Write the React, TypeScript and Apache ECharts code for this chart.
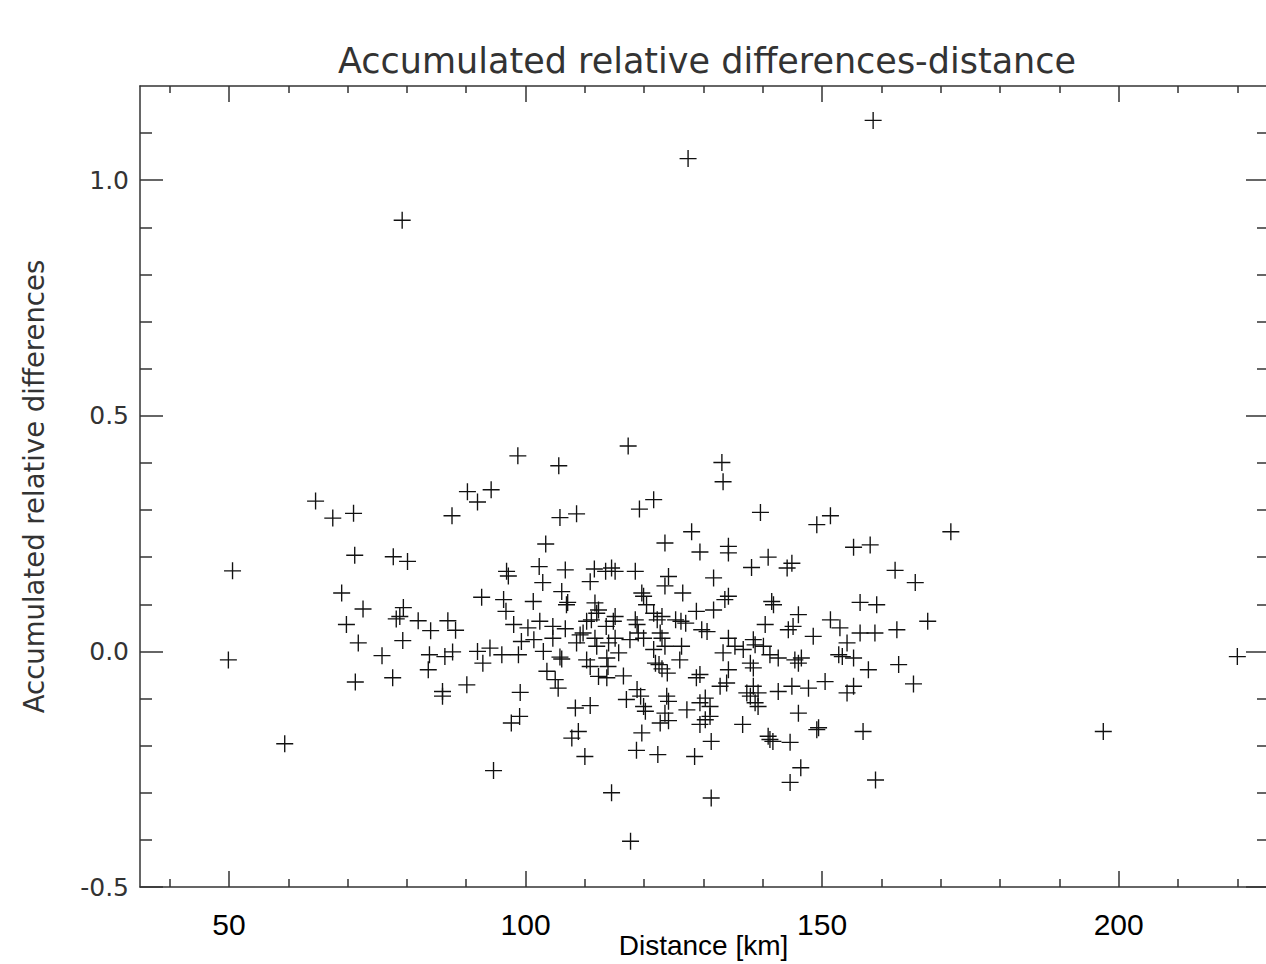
import React, { useEffect, useRef } from "react";
import * as echarts from "echarts";

// [distance km, accumulated relative difference]
const outlierPoints: number[][] = [
  [79.2, 0.915], [127.4, 1.046], [158.6, 1.127], [197.4, -0.17], [220.0, -0.011],
  [171.7, 0.254], [167.8, 0.064], [59.4, -0.196], [94.6, -0.253], [50.6, 0.171], [49.9, -0.018],
];

const westPoints: number[][] = [
  [98.7, 0.415], [105.6, 0.394], [64.6, 0.319], [67.5, 0.283], [71.0, 0.293], [90.2, 0.339],
  [91.9, 0.317], [94.2, 0.343], [87.6, 0.288], [105.8, 0.284], [108.6, 0.292], [103.4, 0.228],
  [71.2, 0.204], [77.7, 0.201], [80.1, 0.191], [96.8, 0.17], [97.1, 0.16], [102.3, 0.18],
  [106.7, 0.173], [102.9, 0.146], [106.1, 0.127], [107.1, 0.104], [106.9, 0.099], [69.0, 0.124],
  [72.6, 0.09], [69.8, 0.057], [71.8, 0.018], [75.8, -0.009], [71.3, -0.065], [77.6, -0.056],
  [79.4, 0.093], [78.2, 0.069], [78.8, 0.074], [81.9, 0.065], [84.0, 0.044], [86.9, 0.065],
  [88.2, 0.045], [79.3, 0.023], [92.6, 0.115], [96.3, 0.11], [96.7, 0.085], [101.3, 0.106],
  [98.0, 0.057], [100.4, 0.05], [102.4, 0.064], [104.6, 0.053], [106.7, 0.048], [99.3, 0.021],
  [101.4, 0.025], [104.6, 0.028], [108.6, 0.018], [83.8, -0.007], [86.4, -0.011], [87.7, -0.001],
  [91.9, 0.0], [94.0, 0.007], [92.8, -0.025], [96.0, -0.007], [98.8, -0.007], [103.0, 0.0],
  [105.8, -0.012], [103.6, -0.042], [105.0, -0.06], [105.5, -0.078], [83.6, -0.039], [86.0, -0.085],
  [86.0, -0.095], [90.1, -0.071], [99.1, -0.087], [99.0, -0.138], [108.4, -0.12], [97.6, -0.152],
  [106.1, -0.016], [110.9, -0.115], [110.3, -0.018], [110.9, -0.032],
];

const centralPoints: number[][] = [
  [117.3, 0.436], [133.1, 0.401], [133.3, 0.36], [121.6, 0.322], [119.2, 0.302], [139.6, 0.295],
  [151.4, 0.288], [149.1, 0.269], [128.0, 0.254], [123.5, 0.23], [155.3, 0.221], [158.1, 0.226],
  [134.2, 0.223], [134.2, 0.209], [129.4, 0.211], [140.9, 0.2], [144.9, 0.187], [144.1, 0.177],
  [138.1, 0.178], [111.6, 0.175], [113.5, 0.17], [114.5, 0.177], [115.1, 0.17], [118.5, 0.17],
  [124.1, 0.159], [131.7, 0.156], [110.9, 0.148], [119.6, 0.124], [119.9, 0.117], [120.4, 0.099],
  [123.5, 0.139], [126.5, 0.124], [133.6, 0.11], [134.2, 0.117], [141.5, 0.106], [141.8, 0.099],
  [156.4, 0.104], [159.2, 0.099], [111.7, 0.103], [112.3, 0.088], [112.0, 0.081], [115.1, 0.074],
  [114.8, 0.064], [113.6, 0.053], [110.3, 0.064], [111.1, 0.067], [109.2, 0.035], [109.7, 0.039],
  [111.7, 0.028], [112.0, 0.011], [114.0, 0.018], [113.7, -0.014], [113.9, -0.032], [115.1, 0.028],
  [115.7, -0.003], [112.3, -0.053], [113.7, -0.056], [116.5, -0.052], [117.6, 0.025], [119.0, 0.039],
  [119.9, 0.028], [118.5, 0.067], [118.8, 0.057], [121.6, 0.081], [122.2, 0.067], [123.0, 0.074],
  [122.7, 0.039], [123.0, 0.028], [121.6, 0.004], [121.9, -0.025], [122.5, -0.028], [123.0, -0.037],
  [123.9, -0.046], [125.3, 0.067], [126.2, 0.064], [127.0, 0.06], [126.3, 0.011], [126.0, -0.018],
  [123.5, 0.011], [128.8, 0.085], [131.7, 0.088], [129.7, 0.046], [130.6, 0.042], [134.2, 0.028],
  [135.3, 0.011], [136.7, 0.004], [133.3, -0.003], [138.4, 0.025], [138.7, 0.014], [140.1, 0.011],
  [140.4, 0.057], [137.9, -0.025], [138.4, -0.035], [141.2, -0.007], [142.6, -0.014], [145.4, -0.018],
  [146.0, -0.025], [146.5, -0.014], [144.3, 0.046], [145.1, 0.053], [148.5, 0.032], [146.0, 0.078],
  [151.4, 0.067], [153.0, 0.05], [156.4, 0.039], [154.2, 0.018], [152.8, -0.007], [153.4, -0.011],
  [157.8, -0.039], [158.9, 0.039], [155.3, -0.014], [162.6, 0.046], [165.7, 0.146], [162.3, 0.172],
  [162.9, -0.028], [165.4, -0.069],
];

const southPoints: number[][] = [
  [155.3, -0.074], [154.2, -0.088], [147.7, -0.078], [144.9, -0.074], [142.6, -0.085], [138.4, -0.074],
  [139.2, -0.088], [132.8, -0.074], [133.9, -0.067], [129.4, -0.049], [128.8, -0.056], [134.2, -0.039],
  [130.3, -0.099], [129.4, -0.109], [131.1, -0.117], [123.8, -0.095], [124.1, -0.106], [118.8, -0.081],
  [119.4, -0.095], [117.0, -0.102], [119.9, -0.117], [120.2, -0.127], [107.8, -0.184], [108.9, -0.17],
  [110.0, -0.223], [114.5, -0.3], [117.7, -0.403], [119.6, -0.173], [118.7, -0.21], [122.3, -0.219],
  [123.5, -0.131], [124.1, -0.147], [122.7, -0.152], [127.2, -0.124], [128.5, -0.223], [129.4, -0.155],
  [130.3, -0.145], [131.1, -0.138], [131.3, -0.191], [131.3, -0.311], [136.6, -0.155], [137.3, -0.088],
  [137.9, -0.095], [138.7, -0.109], [139.2, -0.117], [141.2, -0.187], [140.9, -0.18], [141.7, -0.191],
  [144.6, -0.193], [146.0, -0.131], [149.1, -0.166], [149.4, -0.162], [146.4, -0.247], [144.6, -0.278],
  [150.5, -0.064], [156.9, -0.17], [159.0, -0.273],
];

const xMajorTicks = [50, 100, 150, 200];
const xMinorTicks = [40, 60, 70, 80, 90, 110, 120, 130, 140, 160, 170, 180, 190, 210, 220];
const yMajorTicks = [-0.5, 0, 0.5, 1.0];
const yMinorTicks = [-0.4, -0.3, -0.2, -0.1, 0.1, 0.2, 0.3, 0.4, 0.6, 0.7, 0.8, 0.9, 1.1];

const X_MIN = 35;
const X_MAX = 225;
const Y_MIN = -0.5;
const Y_MAX = 1.2;

const LINE = "#333";
const HERSHEY = "'DejaVu Sans ExtraLight', 'DejaVu Sans', sans-serif";
const PLUS = "path://M9.2,0h1.6v9.2h9.2v1.6h-9.2v9.2h-1.6v-9.2h-9.2v-1.6h9.2z";

function xAxis(position: string, ticks: number[], len: number, showLine: boolean, labels: boolean, extra: any = {}) {
  return {
    type: "value",
    position,
    min: X_MIN,
    max: X_MAX,
    splitLine: { show: false },
    axisLine: { show: showLine, onZero: false, lineStyle: { color: LINE, width: 1.5 } },
    axisTick: { show: true, inside: true, length: len, customValues: ticks, lineStyle: { color: LINE, width: 1.5 } },
    axisLabel: labels
      ? { show: true, customValues: ticks, fontFamily: "'Liberation Sans', Arial, sans-serif", fontSize: 30, color: "#000", margin: 22 }
      : { show: false },
    ...extra,
  };
}

function yAxis(position: string, ticks: number[], len: number, showLine: boolean, labels: boolean, extra: any = {}) {
  return {
    type: "value",
    position,
    min: Y_MIN,
    max: Y_MAX,
    splitLine: { show: false },
    axisLine: { show: showLine, onZero: false, lineStyle: { color: LINE, width: 1.5 } },
    axisTick: { show: true, inside: true, length: len, customValues: ticks, lineStyle: { color: LINE, width: 1.5 } },
    axisLabel: labels
      ? {
          show: true,
          customValues: ticks,
          fontFamily: HERSHEY,
          fontSize: 25,
          color: "#333",
          margin: 11,
          formatter: (v: number) => v.toFixed(1),
        }
      : { show: false },
    ...extra,
  };
}

export default function App() {
  const ref = useRef<HTMLDivElement>(null);
  useEffect(() => {
    if (!ref.current) return;
    const chart = echarts.init(ref.current, undefined, { renderer: "svg" });
    const allPoints = [...outlierPoints, ...westPoints, ...centralPoints, ...southPoints];
    chart.setOption({
      animation: false,
      backgroundColor: "#fff",
      title: {
        text: "Accumulated relative differences-distance",
        left: 333,
        top: 38,
        textStyle: { fontFamily: HERSHEY, fontSize: 35, fontWeight: "normal", color: "#333" },
      },
      grid: { left: 140, top: 86, width: 1127, height: 801, containLabel: false, outerBoundsMode: "none" },
      xAxis: [
        xAxis("bottom", xMajorTicks, 16, true, true, {
          name: "Distance [km]",
          nameLocation: "middle",
          nameGap: 44,
          nameMoveOverlap: false,
          nameTextStyle: { fontFamily: "'Liberation Sans', Arial, sans-serif", fontSize: 28, color: "#000" },
        }),
        xAxis("bottom", xMinorTicks, 8, false, false),
        xAxis("top", xMajorTicks, 16, true, false),
        xAxis("top", xMinorTicks, 7, false, false),
      ],
      yAxis: [
        yAxis("left", yMajorTicks, 23, true, true, {
          name: "Accumulated relative differences",
          nameLocation: "middle",
          nameRotate: 90,
          nameGap: 92,
          nameMoveOverlap: false,
          nameTextStyle: { fontFamily: HERSHEY, fontSize: 27.5, color: "#333" },
        }),
        yAxis("left", yMinorTicks, 12, false, false),
        yAxis("right", yMajorTicks, 21, false, false),
        yAxis("right", yMinorTicks, 10, false, false),
      ],
      series: [
        {
          type: "scatter",
          xAxisIndex: 0,
          yAxisIndex: 0,
          symbol: PLUS,
          symbolSize: 17,
          itemStyle: { color: "#111", opacity: 1 },
          data: allPoints,
        },
      ],
    });
    return () => chart.dispose();
  }, []);
  return <div ref={ref} style={{ position: "absolute", left: 0, top: 0, width: 1266, height: 964 }} />;
}
